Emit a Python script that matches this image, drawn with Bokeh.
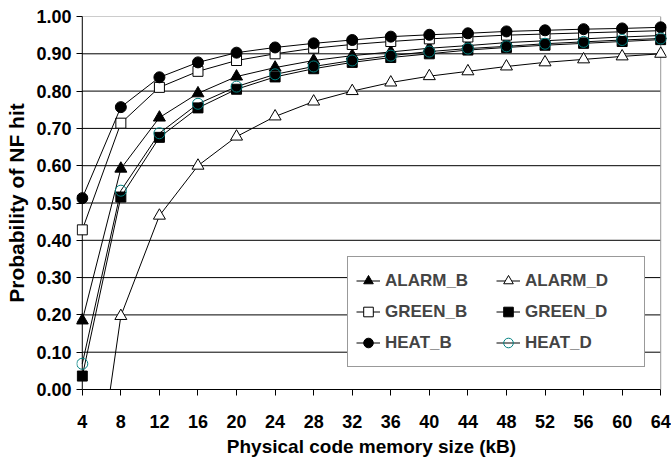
from bokeh.plotting import figure
from bokeh.models import Range1d, FixedTicker, PrintfTickFormatter, Legend, LegendItem
from bokeh.embed import file_html
from bokeh.resources import INLINE

# ---- data ----
memory_kb = [4, 8, 12, 16, 20, 24, 28, 32, 36, 40, 44, 48, 52, 56, 60, 64]
alarm_b = [0.185, 0.592, 0.729, 0.794, 0.839, 0.863, 0.882, 0.895, 0.905, 0.915, 0.922, 0.930, 0.935, 0.940, 0.945, 0.949]
alarm_d = [-0.52, 0.197, 0.466, 0.600, 0.678, 0.732, 0.772, 0.800, 0.823, 0.840, 0.853, 0.866, 0.877, 0.885, 0.893, 0.900]
green_b = [0.428, 0.714, 0.810, 0.853, 0.882, 0.900, 0.915, 0.925, 0.933, 0.940, 0.945, 0.950, 0.953, 0.956, 0.959, 0.962]
green_d = [0.036, 0.516, 0.676, 0.755, 0.805, 0.838, 0.860, 0.877, 0.890, 0.900, 0.910, 0.917, 0.923, 0.928, 0.933, 0.938]
heat_b = [0.513, 0.757, 0.837, 0.877, 0.903, 0.917, 0.928, 0.937, 0.946, 0.951, 0.955, 0.960, 0.963, 0.966, 0.968, 0.971]
heat_d = [0.069, 0.533, 0.687, 0.766, 0.812, 0.845, 0.866, 0.882, 0.895, 0.906, 0.914, 0.920, 0.927, 0.932, 0.937, 0.941]
y_ticks = [0.0, 0.1, 0.2, 0.3, 0.4, 0.5, 0.6, 0.7, 0.8, 0.9, 1.0]

series = [
    ("ALARM_B", alarm_b, "triangle", "black", "black", 12),
    ("ALARM_D", alarm_d, "triangle", "black", "white", 12),
    ("GREEN_B", green_b, "square", "black", "white", 10),
    ("GREEN_D", green_d, "square", "black", "black", 10),
    ("HEAT_B", heat_b, "circle", "black", "black", 11),
    ("HEAT_D", heat_d, "circle", "#008080", None, 11),
]
# legend shows two columns: *_B on the left, *_D on the right (row-wise)
legend_order = ["ALARM_B", "GREEN_B", "HEAT_B", "ALARM_D", "GREEN_D", "HEAT_D"]

FONT = "Liberation Sans"

x_min, x_max = memory_kb[0], memory_kb[-1]
pad = 0.6
p = figure(width=671, height=465,
           x_range=Range1d(x_min - pad, x_max + pad), y_range=Range1d(y_ticks[0], y_ticks[-1]),
           output_backend="svg", toolbar_location=None,
           min_border_left=76, min_border_right=5, min_border_top=16, min_border_bottom=76)
p.outline_line_color = None
p.xgrid.visible = False
p.ygrid.visible = False
p.background_fill_color = "white"

# gridlines bounded to the data extent
inner = y_ticks[1:-1]
p.segment(x0=[x_min] * len(inner), x1=[x_max] * len(inner), y0=inner, y1=inner,
          line_color="black", line_width=1)
# top and right borders (gray)
p.segment(x0=[x_min, x_max], x1=[x_max, x_max], y0=[y_ticks[-1], y_ticks[0]], y1=[y_ticks[-1], y_ticks[-1]],
          line_color="#999999", line_width=1)
# left axis line at x = first category
p.segment(x0=[x_min], x1=[x_min], y0=[y_ticks[0]], y1=[y_ticks[-1]], line_color="black", line_width=1)

item_map = {}
for name, vals, marker, lc, fc, size in series:
    lr = p.line(memory_kb, vals, line_color="black", line_width=1)
    sr = p.scatter(memory_kb, vals, marker=marker, size=size, line_color=lc,
                   fill_color=fc, fill_alpha=0 if fc is None else 1, line_width=1)
    item_map[name] = LegendItem(label=name, renderers=[lr, sr])
items = [item_map[n] for n in legend_order]

# axes
xa = p.xaxis[0]
xa.ticker = FixedTicker(ticks=memory_kb)
xa.bounds = (x_min, x_max)
xa.major_tick_out = 6
xa.major_tick_in = 0
xa.minor_tick_line_color = None
xa.axis_line_color = "black"
xa.major_label_standoff = 19
xa.axis_label = "Physical code memory size (kB)"
xa.axis_label_standoff = 5

ya = p.yaxis[0]
ya.ticker = FixedTicker(ticks=y_ticks)
ya.formatter = PrintfTickFormatter(format="%.2f")
ya.major_tick_in = 6
ya.major_tick_out = 0
ya.minor_tick_line_color = None
ya.axis_line_color = None
ya.major_label_standoff = 5
ya.axis_label = "Probability of NF hit"
ya.axis_label_standoff = 5

for ax in (xa, ya):
    ax.major_label_text_font = FONT
    ax.major_label_text_font_style = "bold"
    ax.major_label_text_font_size = "18px"
    ax.major_label_text_color = "black"
    ax.axis_label_text_font = FONT
    ax.axis_label_text_font_style = "bold"
    ax.axis_label_text_color = "black"
    ax.major_tick_line_color = "black"
xa.axis_label_text_font_size = "19px"
ya.axis_label_text_font_size = "21px"

legend = Legend(items=items, ncols=2, location=(271, 22),
                glyph_width=24, glyph_height=31, label_standoff=5, label_width=111,
                spacing=0, padding=8, margin=0,
                label_text_font=FONT, label_text_font_style="bold", label_text_font_size="17px",
                border_line_color="#333333", border_line_width=1,
                background_fill_color="white", background_fill_alpha=1)
p.add_layout(legend)

open("out.html", "w").write(file_html(p, INLINE))
